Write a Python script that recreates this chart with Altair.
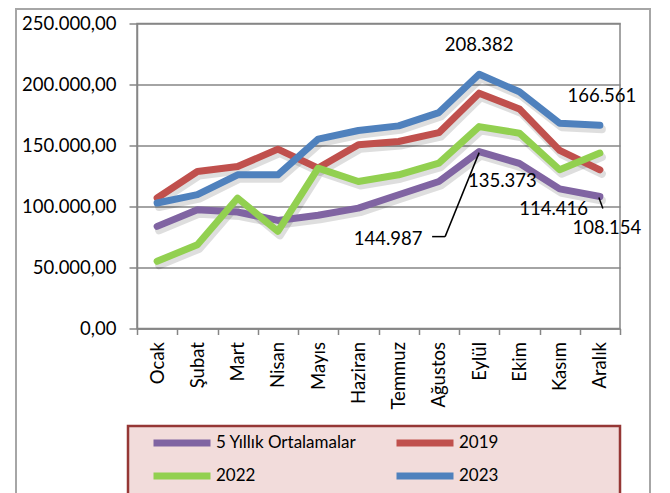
import altair as alt
import pandas as pd

months = ["Ocak", "Şubat", "Mart", "Nisan", "Mayıs", "Haziran", "Temmuz",
          "Ağustos", "Eylül", "Ekim", "Kasım", "Aralık"]
series_names = ["5 Yıllık Ortalamalar", "2019", "2022", "2023"]
avg5 = [83700, 97400, 95500, 88600, 92800, 98700, 109600, 120500,
        144987, 135373, 114416, 108154]
y2019 = [107000, 128700, 132800, 147000, 131500, 150600, 153300, 160500,
         192900, 180000, 146000, 130100]
y2022 = [55100, 68700, 106900, 79600, 131500, 120500, 126000, 135600,
         165500, 160100, 130100, 143800]
y2023 = [102900, 109700, 126000, 126000, 155200, 162300, 166100, 177000,
         208382, 194000, 168300, 166561]
colors = ["#8064A2", "#C0504D", "#92D050", "#4F81BD"]
y_ticks = [0, 50000, 100000, 150000, 200000, 250000]

rows = []
for name, vals in zip(series_names, [avg5, y2019, y2022, y2023]):
    for m, v in zip(months, vals):
        rows.append({"series": name, "month": m, "value": v})
df = pd.DataFrame(rows)

FONT = "Lato"

x_enc = alt.X("month:N", sort=months, title=None,
              scale=alt.Scale(type="band", paddingInner=0, paddingOuter=0),
              axis=alt.Axis(tickBand="extent", labelAngle=-90, tickSize=6,
                            labelPadding=7, grid=False))
y_enc = alt.Y("value:Q", title=None,
              scale=alt.Scale(domain=[0, 250000], nice=False),
              axis=alt.Axis(values=y_ticks, tickSize=8, labelPadding=13,
                            grid=True,
                            labelExpr="replace(replace(replace(format(datum.value, ',.2f'), ',', '#'), '.', ','), '#', '.')"))

base = alt.Chart(df)

frame = base.mark_rect(fill=None, stroke="#A6A6A6", strokeWidth=2).encode(
    x=alt.value(-121), x2=alt.value(513), y=alt.value(-14.5), y2=alt.value(480)
).transform_filter("datum.series == '2019' && datum.month == 'Ocak'")

legend_box = base.mark_rect(fill="#F2DCDB", stroke="#953735", strokeWidth=2.5).encode(
    x=alt.value(-9), x2=alt.value(483), y=alt.value(402.5), y2=alt.value(480)
).transform_filter("datum.series == '2019' && datum.month == 'Ocak'")

shadow = base.mark_line(strokeWidth=8, color="black", opacity=0.13,
                        xOffset=2, yOffset=4, strokeJoin="round",
                        strokeCap="round").encode(
    x=x_enc, y=y_enc, detail="series:N"
)

lines = base.mark_line(strokeWidth=7, strokeJoin="round",
                       strokeCap="round").encode(
    x=x_enc, y=y_enc,
    color=alt.Color("series:N", title=None,
                    scale=alt.Scale(domain=series_names, range=colors),
                    legend=alt.Legend(orient="none", legendX=13, legendY=411.5,
                                      direction="horizontal",
                                      columns=2, columnPadding=36,
                                      rowPadding=16, symbolType="stroke",
                                      symbolSize=3249, symbolStrokeWidth=7,
                                      clipHeight=16, labelOffset=2,
                                      labelFont=FONT, labelFontSize=17,
                                      labelColor="black", padding=0)),
)


def value_label(series, month, dx, dy):
    return base.transform_filter(
        alt.datum.series == series
    ).transform_filter(
        alt.datum.month == month
    ).transform_calculate(
        lbl="replace(format(datum.value, ',d'), ',', '.')"
    ).mark_text(font=FONT, fontSize=18.5, color="black", dx=dx, dy=dy,
                align="center", baseline="middle").encode(
        x=x_enc, y=y_enc, text="lbl:N"
    )


def leader(series, month, xo, yo, x2o, y2o):
    return base.transform_filter(
        alt.datum.series == series
    ).transform_filter(
        alt.datum.month == month
    ).mark_rule(color="black", strokeWidth=1.5, xOffset=xo, yOffset=yo,
                x2Offset=x2o, y2Offset=y2o).encode(
        x=x_enc, y=y_enc, x2="month:N", y2="value:Q"
    )


labels = [
    value_label("2023", "Eylül", 0, -29),
    value_label("2023", "Aralık", 2, -29),
    value_label("5 Yıllık Ortalamalar", "Ekim", -17, 18),
    value_label("5 Yıllık Ortalamalar", "Kasım", -6, 20),
    value_label("5 Yıllık Ortalamalar", "Aralık", 7, 31),
    value_label("5 Yıllık Ortalamalar", "Eylül", -91, 87),
    leader("5 Yıllık Ortalamalar", "Eylül", 0, 1, -34, 85),
    leader("5 Yıllık Ortalamalar", "Eylül", -34, 85, -47, 85),
    leader("5 Yıllık Ortalamalar", "Aralık", -1, 1, 3, 12),
]

chart = alt.layer(frame, legend_box, shadow, lines, *labels).properties(
    width=483, height=305,
    padding={"left": 129, "top": 15.5, "right": 42, "bottom": 164.5},
    autosize=alt.AutoSizeParams(type="none"),
).configure_view(
    stroke="#868686", strokeWidth=1.5
).configure_axis(
    domainColor="#868686", domainWidth=1.5, tickColor="#868686",
    tickWidth=1.5, gridColor="#868686", gridWidth=1.5,
    labelFont=FONT, labelFontSize=18.5, labelColor="black"
)

chart.save("out.html", embed_options={"renderer": "svg", "actions": False})
